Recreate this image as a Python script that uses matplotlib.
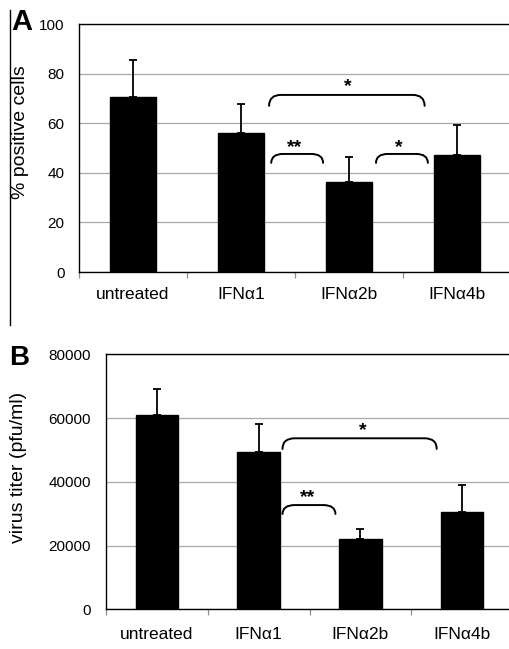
import matplotlib
matplotlib.use('Agg')
import matplotlib.pyplot as plt
from matplotlib.path import Path
from matplotlib.patches import PathPatch
from matplotlib.lines import Line2D
import numpy as np

plt.rcParams['font.family'] = ['Liberation Sans', 'DejaVu Sans']

# data
categories = ['untreated', 'IFN\u03b11', 'IFN\u03b12b', 'IFN\u03b14b']
pos_cells = [70.5, 56.2, 36.4, 47.0]
pos_cells_err = [15.0, 11.5, 10.1, 12.1]
titer = [61000, 49500, 22000, 30400]
titer_err = [8100, 8700, 3300, 8700]

# significance brackets: (x start, x end, top, bottom, label, label x, label y)
brackets_a = [
    (1.26, 2.70, 71.4, 67.0, '*', 1.99, 74.8),
    (1.28, 1.76, 47.6, 44.0, '**', 1.50, 50.2),
    (2.25, 2.73, 47.6, 44.0, '*', 2.46, 50.2),
]
brackets_b = [
    (1.235, 2.75, 53650, 50300, '*', 2.02, 56000),
    (1.235, 1.755, 32700, 29900, '**', 1.48, 35100),
]

W, H = 509, 649
fig = plt.figure(figsize=(W / 100, H / 100), dpi=100)


def px_rect(left, right, top, bottom):
    return [left / W, 1 - bottom / H, (right - left) / W, (bottom - top) / H]


def bracket(ax, x0, x1, ytop, ybot, dx):
    verts = [(x0, ybot), (x0, ytop), (x0 + dx, ytop),
             (x1 - dx, ytop), (x1, ytop), (x1, ybot)]
    codes = [Path.MOVETO, Path.CURVE3, Path.CURVE3,
             Path.LINETO, Path.CURVE3, Path.CURVE3]
    ax.add_patch(PathPatch(Path(verts, codes), fill=False, lw=1.4,
                           edgecolor='black', capstyle='round'))


def panel(ax, values, errs, ymax, ystep, brackets, dx, ypad, xpad):
    x = np.arange(len(categories))
    ax.set_axisbelow(True)
    ax.bar(x, values, width=0.42, color='black', edgecolor='black',
           yerr=[np.zeros(len(errs)), errs], capsize=3,
           error_kw=dict(ecolor='black', elinewidth=1.3, capthick=1.3))
    ax.set_xlim(-0.5, len(categories) - 0.5)
    ax.set_ylim(0, ymax)
    ax.set_yticks(np.arange(0, ymax + 1, ystep))
    ax.yaxis.grid(True, color='#a8a8a8', lw=0.9)
    ax.set_xticks(x)
    ax.set_xticklabels(categories, fontsize=12.5)
    ax.set_xticks(np.arange(-0.5, len(categories)), minor=True)
    ax.tick_params(axis='x', which='major', length=0, pad=xpad)
    ax.tick_params(axis='x', which='minor', length=4, color='#909090', width=0.9)
    ax.tick_params(axis='y', length=0, pad=ypad, labelsize=11)
    for s in ['left', 'bottom', 'top']:
        ax.spines[s].set_color('black')
        ax.spines[s].set_linewidth(1.0)
    ax.spines['right'].set_visible(False)
    for x0, x1, yt, yb, lab, lx, ly in brackets:
        bracket(ax, x0, x1, yt, yb, dx)
        ax.text(lx, ly, lab, ha='center', va='center', fontsize=14,
                fontweight='bold')


ax_a = fig.add_axes(px_rect(79, 511, 24, 272))
panel(ax_a, pos_cells, pos_cells_err, 100, 20, brackets_a, 0.11, 10.5, 10.5)

ax_b = fig.add_axes(px_rect(106, 513, 354.3, 609.3))
panel(ax_b, titer, titer_err, 80000, 20000, brackets_b, 0.12, 11, 12.5)

fig.text(21 / W, 1 - 132 / H, '% positive cells', rotation=90, fontsize=14,
         ha='center', va='center')
fig.text(19 / W, 1 - 467 / H, 'virus titer (pfu/ml)', rotation=90, fontsize=14,
         ha='center', va='center')

fig.text(22 / W, 1 - 22 / H, 'A', fontsize=21, fontweight='bold',
         ha='center', va='center')
fig.text(19.5 / W, 1 - 358 / H, 'B', fontsize=20, fontweight='bold',
         ha='center', va='center')

# vertical rule left of panel A
fig.add_artist(Line2D([9.5 / W, 9.5 / W], [1 - 10 / H, 1 - 325 / H],
                      color='black', lw=1.0, transform=fig.transFigure))

fig.savefig('out.png', dpi=100)
